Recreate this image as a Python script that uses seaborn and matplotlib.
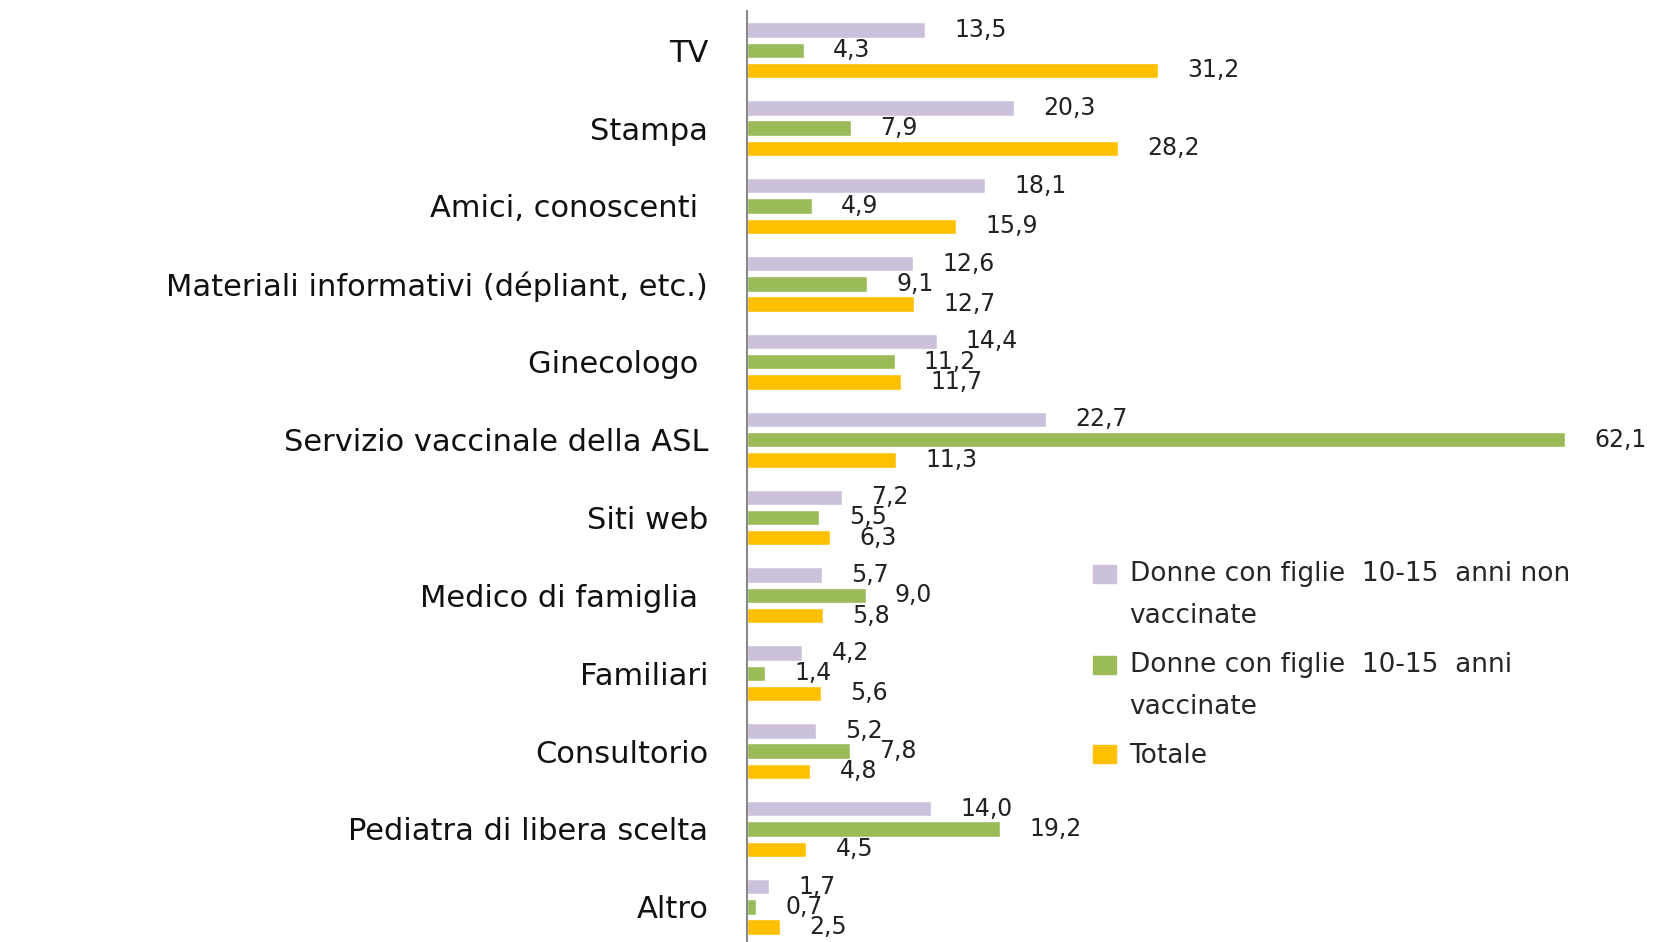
import pandas as pd
import seaborn as sns
from matplotlib import pyplot
import matplotlib.patches as mpatches
from matplotlib.legend_handler import HandlerPatch

categorie = ['TV', 'Stampa', 'Amici, conoscenti ', 'Materiali informativi (dépliant, etc.)',
             'Ginecologo ', 'Servizio vaccinale della ASL', 'Siti web', 'Medico di famiglia ',
             'Familiari', 'Consultorio', 'Pediatra di libera scelta', 'Altro']
serie = ['Donne con figlie  10-15  anni non\nvaccinate',
         'Donne con figlie  10-15  anni\nvaccinate',
         'Totale']
non_vaccinate = [13.5, 20.3, 18.1, 12.6, 14.4, 22.7, 7.2, 5.7, 4.2, 5.2, 14.0, 1.7]
vaccinate = [4.3, 7.9, 4.9, 9.1, 11.2, 62.1, 5.5, 9.0, 1.4, 7.8, 19.2, 0.7]
totale = [31.2, 28.2, 15.9, 12.7, 11.7, 11.3, 6.3, 5.8, 5.6, 4.8, 4.5, 2.5]
colori = ['#ccc1da', '#9bbb59', '#ffc000']

## long format for seaborn
df = pd.DataFrame({
    'fonte': categorie * 3,
    'serie': [serie[0]] * 12 + [serie[1]] * 12 + [serie[2]] * 12,
    'valore': non_vaccinate + vaccinate + totale,
})

sns.set_theme(style="white")
pyplot.rcParams['font.family'] = ['DejaVu Sans']

fig = pyplot.figure(figsize=(16.78, 9.42), dpi=100)
ax = fig.add_axes([0.4452, -0.004, 0.5548, 0.992])

sns.barplot(data=df, y='fonte', x='valore', hue='serie', palette=colori,
            orient='h', width=0.78, gap=0.24, ax=ax, saturation=1)

for cont in ax.containers:
    ax.bar_label(cont, labels=[f"{v:.1f}".replace('.', ',') for v in cont.datavalues],
                 padding=21, fontsize=17, color='#222222')

ax.set_xlim(0, 70.7)
ax.set_ylim(11.5, -0.5)
ax.set_xlabel('')
ax.set_ylabel('')
ax.set_xticks([])
ax.tick_params(axis='y', length=0, pad=28, labelsize=22, labelcolor='#111111')
for s in ['top', 'right', 'bottom']:
    ax.spines[s].set_visible(False)
ax.spines['left'].set_color('#888888')
ax.spines['left'].set_linewidth(1.5)

ax.legend_.remove()


## legend squares sit on the first line of the wrapped labels
def square_top(legend, orig_handle, xdescent, ydescent, width, height, fontsize):
    return mpatches.Rectangle((-xdescent, -ydescent + orig_handle.shift), width, height)


handles = []
for c, lab in zip(colori, serie):
    p = mpatches.Patch(color=c)
    p.shift = 15.5 if '\n' in lab else 0
    handles.append(p)

leg = fig.legend(handles, serie, loc='upper left', bbox_to_anchor=(0.637, 0.43),
                 frameon=False, fontsize=19, handlelength=0.9, handleheight=0.7,
                 handletextpad=0.5, labelspacing=0.88,
                 handler_map={mpatches.Patch: HandlerPatch(patch_func=square_top)})
for t in leg.get_texts():
    t.set_linespacing(1.8)

fig.savefig('out.png', dpi=100)
